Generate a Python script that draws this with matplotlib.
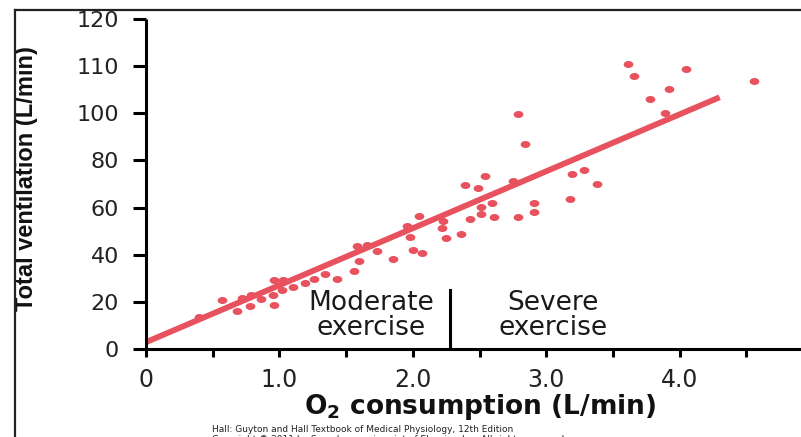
import numpy as np
import matplotlib
matplotlib.use("Agg")
import matplotlib.pyplot as plt
from matplotlib.lines import Line2D

# O2 consumption (L/min) and total ventilation (L/min)
o2 = [0.40, 0.57, 0.68, 0.72, 0.78, 0.79, 0.86, 0.95, 0.96, 0.96,
      1.03, 1.02, 1.10, 1.19, 1.26, 1.34, 1.43, 1.56, 1.60, 1.58,
      1.66, 1.73, 1.85, 1.96, 1.98, 2.00, 2.07, 2.05, 2.22, 2.23,
      2.25, 2.36, 2.39, 2.43, 2.49, 2.54, 2.51, 2.51, 2.59, 2.61,
      2.75, 2.79, 2.79, 2.84, 2.91, 2.91, 3.18, 3.19, 3.28, 3.38,
      3.61, 3.66, 4.05, 4.56, 3.78, 3.92, 3.89]
vent = [13.7, 20.9, 16.2, 21.7, 18.3, 22.8, 21.1, 23.0, 18.7, 29.4,
        29.4, 25.1, 26.5, 28.2, 29.8, 31.7, 29.8, 33.0, 37.3, 43.8,
        44.0, 41.4, 38.2, 52.0, 47.4, 42.1, 40.7, 56.4, 51.4, 54.5,
        47.0, 48.9, 69.7, 55.1, 68.4, 73.2, 60.3, 57.2, 62.0, 55.9,
        71.2, 55.9, 99.9, 87.1, 61.9, 58.2, 63.6, 74.1, 76.1, 70.1,
        110.4, 108.0, 109.3, 106.9, 103.1, 105.1, 100.0]

# regression line end points
fit_x = [0.0, 4.3]
fit_y = [2.9, 103.4]

# boundary between moderate and severe exercise
boundary_x = 2.28
boundary_top = 25

x_ticks = [0, 0.5, 1.0, 1.5, 2.0, 2.5, 3.0, 3.5, 4.0, 4.5]
x_labels = ["0", "", "1.0", "", "2.0", "", "3.0", "", "4.0", ""]
y_ticks = [0, 20, 40, 60, 80, 100, 110, 120]
y_labels = ["0", "20", "40", "60", "80", "100", "110", "120"]

red = "#E8525E"

plt.rcParams["font.family"] = ["DejaVu Sans"]
plt.rcParams["mathtext.default"] = "regular"


# the original axis gives 100-120 the same spacing as 20-unit steps below
def fwd(y):
    y = np.asarray(y, dtype=float)
    return np.where(y <= 100, y, 100 + 2 * (y - 100))


def inv(t):
    t = np.asarray(t, dtype=float)
    return np.where(t <= 100, t, 100 + (t - 100) / 2)


fig = plt.figure(figsize=(8.01, 4.37), dpi=100)
ax = fig.add_axes([146 / 801, 88 / 437, 655 / 801, 330 / 437])
ax.set_yscale("function", functions=(fwd, inv))

# elliptical dot marker (the source image is stretched horizontally)
th = np.linspace(0, 2 * np.pi, 40)
ell = np.column_stack([np.cos(th), 0.72 * np.sin(th)])

ax.plot(o2, vent, linestyle="none", marker=ell, markersize=7,
        color=red, markeredgewidth=0)
ax.plot(fit_x, fit_y, color=red, linewidth=4.2, solid_capstyle="butt")

ax.plot([boundary_x, boundary_x], [0, boundary_top], color="black",
        linewidth=2.2)

ax.set_xlim(0, 4.91)
ax.set_ylim(0, 120)

ax.set_xticks(x_ticks)
ax.set_xticklabels(x_labels)
ax.set_yticks(y_ticks)
ax.set_yticklabels(y_labels)
ax.yaxis.set_minor_locator(matplotlib.ticker.NullLocator())

for s in ["top", "right"]:
    ax.spines[s].set_visible(False)
for s in ["left", "bottom"]:
    ax.spines[s].set_linewidth(2.2)
    ax.spines[s].set_capstyle("butt")

ax.tick_params(axis="y", length=9.5, width=2.2, pad=10, labelsize=16,
               colors="black", labelcolor="#222222")
ax.tick_params(axis="x", length=6, width=2.2, pad=8, labelsize=17,
               colors="black", labelcolor="#222222")

# region labels
ax.text(1.69, 16.6, "Moderate", ha="center", va="baseline", fontsize=19,
        color="#1a1a1a")
ax.text(1.69, 6.0, "exercise", ha="center", va="baseline", fontsize=19,
        color="#1a1a1a")
ax.text(3.05, 16.6, "Severe", ha="center", va="baseline", fontsize=19,
        color="#1a1a1a")
ax.text(3.05, 6.0, "exercise", ha="center", va="baseline", fontsize=19,
        color="#1a1a1a")

ax.set_xlabel("O$_2$ consumption (L/min)", fontsize=19, fontweight="bold",
              color="#111111")
ax.xaxis.set_label_coords(0.51, -0.13)
ax.set_ylabel("Total ventilation (L/min)", fontsize=17, fontweight="bold",
              family=["Liberation Sans"], color="#111111")
ax.yaxis.set_label_coords(-0.165, 0.515)

# credit lines at the bottom
fig.text(212 / 801, 1 - 432 / 437,
         "Hall: Guyton and Hall Textbook of Medical Physiology, 12th Edition",
         fontsize=6.5, va="baseline", ha="left", color="#222222")
fig.text(212 / 801, 1 - 442 / 437,
         "Copyright \u00a9 2011 by Saunders, an imprint of Elsevier, Inc. "
         "All rights reserved.",
         fontsize=6.5, va="baseline", ha="left", color="#222222")

# outer frame of the picture
fig.add_artist(Line2D([14.5 / 801, 14.5 / 801], [0, 1 - 10 / 437],
                      transform=fig.transFigure, color="#222222", lw=1.6))
fig.add_artist(Line2D([14.5 / 801, 1], [1 - 10 / 437, 1 - 10 / 437],
                      transform=fig.transFigure, color="#222222", lw=1.6))

fig.savefig("out.png", dpi=100)
